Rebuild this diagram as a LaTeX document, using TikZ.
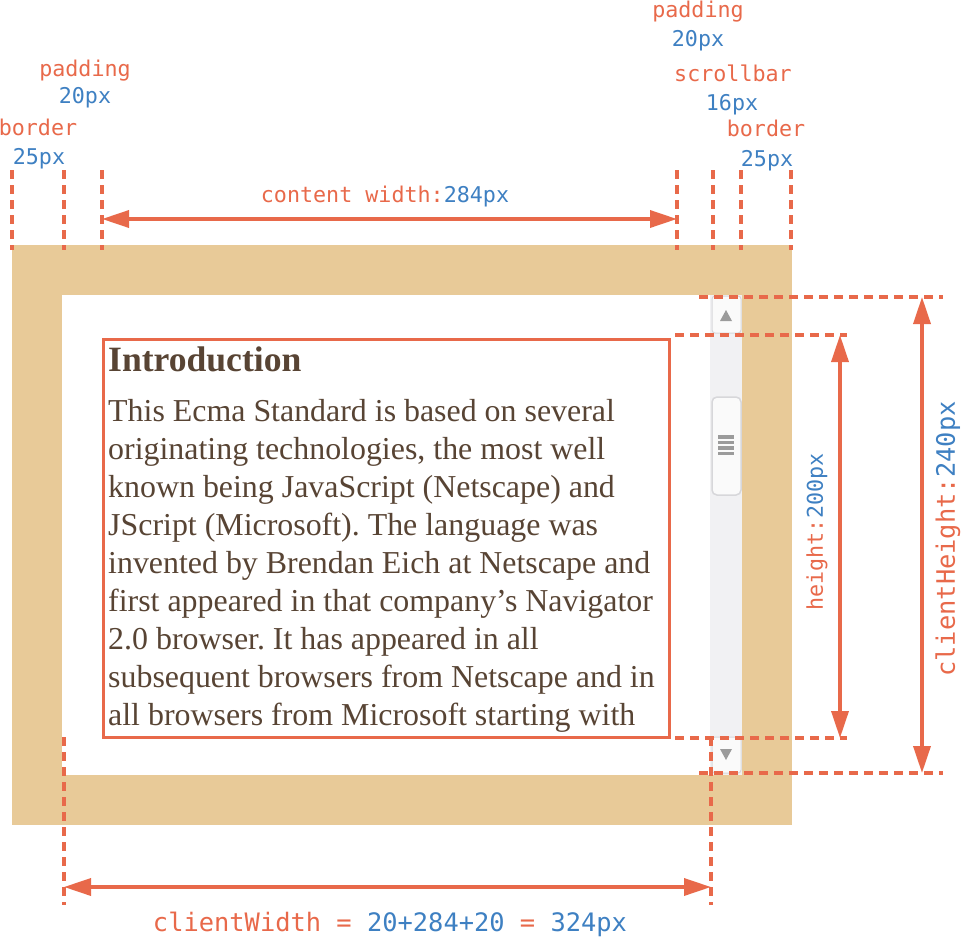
\documentclass[tikz,border=0pt]{standalone}
\usepackage{fontspec}
\setmainfont{Liberation Serif}
\newfontfamily\monof{DejaVu Sans Mono}
\usetikzlibrary{arrows.meta}
\definecolor{cred}{RGB}{232,105,74}
\definecolor{cblue}{RGB}{62,128,194}
\definecolor{ctan}{RGB}{232,202,152}
\definecolor{ctext}{RGB}{88,68,52}
\definecolor{ctrack}{RGB}{241,241,243}
\definecolor{cbtn}{RGB}{250,250,250}
\definecolor{cedge}{RGB}{215,215,218}
\definecolor{cgrip}{RGB}{155,155,155}
\tikzset{
  guide/.style={draw=cred, line width=3.8pt, dash pattern=on 9pt off 6pt},
  dimarrow/.style={draw=cred, line width=3.5pt, {Triangle[length=27pt,width=17pt]}-{Triangle[length=27pt,width=17pt]}},
  lbl/.style={font=\monof\fontsize{21.7}{24}\selectfont, inner sep=0pt, anchor=base},
  biglbl/.style={font=\monof\fontsize{25.4}{28}\selectfont, inner sep=0pt},
  bodyline/.style={font=\frenchspacing\fontsize{31.9}{38}\selectfont, text=ctext, anchor=base west, inner sep=0pt},
  titleline/.style={font=\bfseries\fontsize{35.6}{40}\selectfont, text=ctext, anchor=base west, inner sep=0pt},
}
\begin{document}
\frenchspacing
\begin{tikzpicture}[x=1pt,y=-1pt]
\useasboundingbox (0,0) rectangle (962,937);
% box
\fill[ctan] (12,245) rectangle (792,825);
\fill[white] (62,295) rectangle (742,775);
% scrollbar
\fill[ctrack] (710,295) rectangle (742,775);
\filldraw[fill=cbtn, draw=cedge, line width=1pt, rounded corners=3pt] (712,296) rectangle (741,333);
\filldraw[fill=cbtn, draw=cedge, line width=1pt, rounded corners=3pt] (712,737) rectangle (741,773);
\fill[cgrip] (720,321) -- (732,321) -- (726,310) -- cycle;
\fill[cgrip] (720,749) -- (732,749) -- (726,760) -- cycle;
\filldraw[fill=cbtn, draw=cedge, line width=1.5pt, rounded corners=5pt] (712,397) rectangle (741,495);
\foreach \yy in {437,442.5,448,453.5} \draw[cgrip, line width=3.5pt] (718,\yy) -- (734,\yy);
% text
\node[titleline] (t0) at (108,371) {Introduction};
\node[bodyline] (t1) at (108,421) {This Ecma Standard is based on several};
\node[bodyline] (t2) at (108,459) {originating technologies, the most well};
\node[bodyline] (t3) at (108,497) {known being JavaScript (Netscape) and};
\node[bodyline] (t4) at (108,535) {JScript (Microsoft). The language was};
\node[bodyline] (t5) at (108,573) {invented by Brendan Eich at Netscape and};
\node[bodyline] (t6) at (108,611) {first appeared in that company’s Navigator};
\node[bodyline] (t7) at (108,649) {2.0 browser. It has appeared in all};
\node[bodyline] (t8) at (108,687) {subsequent browsers from Netscape and in};
\node[bodyline] (t9) at (108,725) {all browsers from Microsoft starting with};
\draw[cred, line width=3pt] (103,339) rectangle (669,737);
% guide coordinates
\foreach \n/\xx in {a/12,b/64,c/102,d/677,e/713,f/741,g/791} {
  \coordinate (\n1) at (\xx,170);
  \coordinate (\n2) at (\xx,250);
  \draw[guide] (\n1) -- (\n2);
}
\coordinate (h1) at (699,297); \coordinate (h2) at (943,297);
\coordinate (i1) at (675,335); \coordinate (i2) at (847,335);
\coordinate (j1) at (675,738); \coordinate (j2) at (847,738);
\coordinate (k1) at (699,773); \coordinate (k2) at (943,773);
\coordinate (l1) at (64,737);  \coordinate (l2) at (64,905);
\coordinate (m1) at (711,737); \coordinate (m2) at (711,905);
\draw[guide] (h1) -- (h2);
\draw[guide] (i1) -- (i2);
\draw[guide] (j1) -- (j2);
\draw[guide] (k1) -- (k2);
\draw[guide] (l1) -- (l2);
\draw[guide] (m1) -- (m2);
% dimension arrows
\coordinate (cw1) at (102,219); \coordinate (cw2) at (677,219);
\coordinate (ht1) at (840,335); \coordinate (ht2) at (840,738);
\coordinate (ch1) at (922,297); \coordinate (ch2) at (922,773);
\coordinate (cl1) at (64,887);  \coordinate (cl2) at (711,887);
\draw[dimarrow] (cw1) -- (cw2);
\draw[dimarrow] (ht1) -- (ht2);
\draw[dimarrow] (ch1) -- (ch2);
\draw[dimarrow] (cl1) -- (cl2);
% labels
\node[lbl, text=cred] (lp1) at (85,76) {padding};
\node[lbl, text=cblue] (lp1v) at (85,103) {20px};
\node[lbl, text=cred] (lb1) at (38,135) {border};
\node[lbl, text=cblue] (lb1v) at (39,164) {25px};
\node[lbl, text=cred] (lp2) at (698,17) {padding};
\node[lbl, text=cblue] (lp2v) at (698,46) {20px};
\node[lbl, text=cred] (ls) at (733,81) {scrollbar};
\node[lbl, text=cblue] (lsv) at (732,110) {16px};
\node[lbl, text=cred] (lb2) at (766,136) {border};
\node[lbl, text=cblue] (lb2v) at (767,166) {25px};
\node[lbl, text=cred] (lcw) at (385,202) {content width:\textcolor{cblue}{284px}};
\node[lbl, text=cred, rotate=90, anchor=center] (lht) at (817,532) {height:\textcolor{cblue}{200px}};
\node[biglbl, text=cred, rotate=90, anchor=center] (lch) at (948,539) {clientHeight:\textcolor{cblue}{240px}};
\node[biglbl, text=cred, anchor=base] (lcl) at (390,931) {clientWidth = \textcolor{cblue}{20+284+20} = \textcolor{cblue}{324px}};
\end{tikzpicture}
\end{document}
